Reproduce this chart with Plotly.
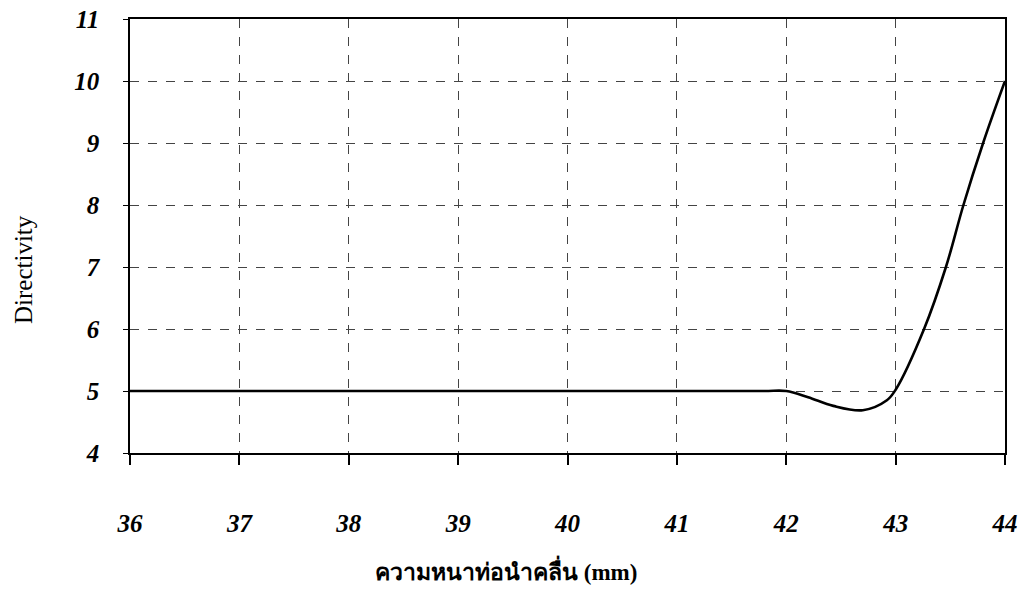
import plotly.graph_objects as go

# Waveguide wall thickness (mm) vs. directivity
thickness = [36, 37, 38, 39, 40, 41, 41.8, 42, 42.2, 42.43, 42.7, 42.92, 43.0, 43.26, 43.46, 43.62, 43.8, 44]
directivity = [5.0, 5.0, 5.0, 5.0, 5.0, 5.0, 5.0, 5.0, 4.9, 4.76, 4.69, 4.85, 5.02, 6.0, 7.0, 8.0, 9.0, 10.0]

x_ticks = [36, 37, 38, 39, 40, 41, 42, 43, 44]
y_ticks = [4, 5, 6, 7, 8, 9, 10, 11]

serif = "Liberation Serif, Times New Roman, serif"
tick_font = dict(family=serif, size=25, color="black", weight="bold", style="italic")

fig = go.Figure()
fig.add_trace(go.Scatter(
    x=thickness, y=directivity, mode="lines",
    line=dict(color="black", width=2.6, shape="spline", smoothing=1.0),
    showlegend=False,
))

fig.update_layout(
    width=1020, height=602,
    margin=dict(l=130, r=15, t=19, b=149),
    paper_bgcolor="white", plot_bgcolor="white",
    font=dict(family=serif, color="black"),
)

fig.update_xaxes(
    range=[36, 44], tickvals=x_ticks, ticktext=[str(v) for v in x_ticks],
    showgrid=True, gridcolor="#444", griddash="dash", gridwidth=1,
    showline=True, linecolor="black", linewidth=1.5, mirror=True,
    ticks="outside", ticklen=10, tickcolor="black", tickwidth=1.5,
    tickfont=tick_font, ticklabelstandoff=37,
    zeroline=False, automargin=False,
)

fig.update_yaxes(
    range=[4, 11], tickvals=y_ticks, ticktext=[str(v) for v in y_ticks],
    showgrid=True, gridcolor="#444", griddash="dash", gridwidth=1,
    showline=True, linecolor="black", linewidth=1.5, mirror=True,
    ticks="outside", ticklen=5, tickcolor="black", tickwidth=1,
    tickfont=tick_font, ticklabelstandoff=19,
    zeroline=False, automargin=False,
)

# Axis titles
fig.add_annotation(
    text="ความหนาท่อนำคลื่น (mm)", xref="paper", yref="paper",
    x=(506 - 130) / 875, y=-(570 - 453) / 434, xanchor="center", yanchor="middle",
    showarrow=False, font=dict(family=serif, size=23, color="black", weight="bold"),
)
fig.add_annotation(
    text="Directivity", xref="paper", yref="paper",
    x=-(130 - 23) / 875, y=(453 - 270) / 434, xanchor="center", yanchor="middle",
    textangle=-90, showarrow=False, font=dict(family=serif, size=25, color="black"),
)

fig.write_html("out.html")
